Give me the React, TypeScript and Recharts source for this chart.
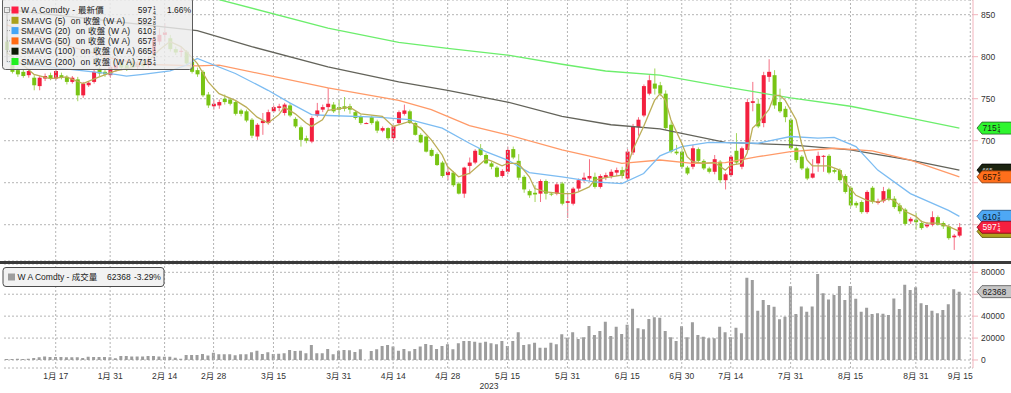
import React from "react";
import { ComposedChart, Bar, Line, XAxis, YAxis, CartesianGrid, ReferenceLine } from "recharts";

const FONT = "'Liberation Sans', Arial, 'Noto Sans CJK TC', sans-serif";

// trading-day slots per month (2023, Jan..Sep); Sep 14/15 are empty trailing slots
const TRADING_DAYS: number[][] = [
  [3, 4, 5, 6, 9, 10, 11, 12, 13, 17, 18, 19, 20, 23, 24, 25, 26, 27, 30, 31],
  [1, 2, 3, 6, 7, 8, 9, 10, 13, 14, 15, 16, 17, 21, 22, 23, 24, 27, 28],
  [1, 2, 3, 6, 7, 8, 9, 10, 13, 14, 15, 16, 17, 20, 21, 22, 23, 24, 27, 28, 29, 30, 31],
  [3, 4, 5, 6, 7, 10, 11, 12, 13, 14, 17, 18, 19, 20, 21, 24, 25, 26, 27, 28],
  [1, 2, 3, 4, 5, 8, 9, 10, 11, 12, 15, 16, 17, 18, 19, 22, 23, 24, 25, 26, 30, 31],
  [1, 2, 5, 6, 7, 8, 9, 12, 13, 14, 15, 16, 20, 21, 22, 23, 26, 27, 28, 29, 30],
  [3, 5, 6, 7, 10, 11, 12, 13, 14, 17, 18, 19, 20, 21, 24, 25, 26, 27, 28, 31],
  [1, 2, 3, 4, 7, 8, 9, 10, 11, 14, 15, 16, 17, 18, 21, 22, 23, 24, 25, 28, 29, 30, 31],
  [1, 5, 6, 7, 8, 11, 12, 13, 14, 15],
];

const TICK_DATES = ["1/17", "1/31", "2/14", "2/28", "3/15", "3/31", "4/14", "4/28", "5/15", "5/31", "6/15", "6/30", "7/14", "7/31", "8/15", "8/31", "9/15"];
const PRICE_TICKS = [600, 650, 700, 750, 800, 850];
const PRICE_TICKS_COVERED = [600, 650];
const VOL_TICKS = [0, 20000, 40000, 60000, 80000];
const VOL_TICKS_COVERED = [60000];

const OPEN = [
  818, 796, 784, 782, 778, 775, 765, 774, 778, 774,
  778, 776, 770, 773, 754, 766, 770, 786, 782, 778,
  786, 792, 790, 794, 788, 793, 790, 803, 818, 826,
  822, 809, 806, 806, 794, 784, 782, 755, 741, 742,
  750, 749, 746, 736, 735, 725, 705, 721, 721, 735,
  739, 733, 742, 726, 716, 703, 699, 730, 737, 740,
  743, 740, 741, 741, 734, 729, 721, 728, 723, 712,
  715, 703, 721, 732, 735, 721, 707, 705, 689, 684,
  674, 659, 662, 649, 637, 670, 674, 691, 683, 673,
  668, 658, 663, 690, 676, 657, 640, 638, 637, 652,
  637, 637, 649, 626, 625, 643, 653, 655, 657, 645,
  656, 658, 662, 665, 655, 686, 716, 730, 756, 768,
  766, 756, 719, 687, 687, 668, 669, 690, 676, 667,
  663, 675, 653, 659, 688, 669, 689, 745, 744, 721,
  776, 778, 746, 738, 725, 691, 681, 667, 656, 673,
  681, 682, 665, 665, 658, 644, 626, 627, 615, 644,
  626, 628, 642, 631, 623, 618, 604, 606, 602, 598,
  600, 609, 602, 598, 585, 587,
];
const HIGH = [
  824, 800, 787, 785, 786, 778, 777, 780, 781, 787,
  781, 778, 777, 776, 770, 771, 785, 790, 786, 795,
  794, 796, 794, 798, 795, 797, 800, 830, 834, 840,
  826, 812, 812, 808, 797, 787, 784, 758, 749, 749,
  755, 751, 748, 738, 737, 727, 721, 733, 737, 742,
  744, 745, 745, 728, 718, 706, 729, 745, 743, 763,
  746, 749, 752, 744, 736, 731, 722, 730, 725, 717,
  716, 718, 736, 743, 737, 722, 709, 706, 691, 686,
  676, 669, 664, 651, 669, 680, 690, 696, 685, 675,
  670, 666, 693, 693, 684, 659, 642, 647, 654, 654,
  639, 650, 651, 638, 645, 655, 662, 678, 662, 660,
  662, 666, 668, 669, 690, 720, 728, 767, 778, 786,
  770, 760, 723, 695, 690, 670, 695, 692, 678, 669,
  683, 677, 662, 683, 709, 693, 750, 770, 750, 782,
  797, 784, 762, 741, 727, 693, 683, 669, 678, 687,
  683, 684, 667, 667, 660, 646, 628, 629, 641, 646,
  631, 645, 644, 634, 626, 620, 609, 614, 605, 603,
  616, 611, 604, 600, 589, 602,
];
const LOW = [
  804, 780, 776, 775, 775, 760, 760, 771, 772, 772,
  773, 767, 768, 747, 751, 764, 768, 777, 776, 775,
  782, 784, 783, 786, 785, 786, 787, 800, 814, 818,
  806, 802, 800, 790, 780, 776, 752, 739, 737, 738,
  743, 742, 730, 729, 722, 703, 701, 707, 719, 733,
  735, 730, 728, 715, 693, 697, 697, 728, 734, 736,
  733, 728, 735, 732, 725, 719, 720, 719, 709, 710,
  701, 699, 719, 730, 720, 706, 697, 686, 681, 670,
  656, 653, 645, 636, 632, 660, 672, 682, 672, 666,
  656, 656, 660, 678, 653, 638, 632, 627, 627, 630,
  634, 635, 623, 608, 623, 640, 650, 652, 643, 643,
  653, 655, 658, 655, 652, 683, 706, 728, 754, 755,
  753, 713, 685, 683, 667, 659, 666, 674, 665, 661,
  660, 650, 642, 657, 672, 666, 686, 735, 715, 716,
  770, 738, 733, 722, 689, 674, 665, 653, 655, 663,
  663, 660, 661, 651, 637, 621, 620, 613, 613, 625,
  624, 626, 628, 619, 613, 599, 601, 594, 594, 596,
  598, 599, 595, 582, 570, 585,
];
const CLOSE = [
  808, 782, 779, 777, 783, 766, 775, 777, 774, 783,
  775, 770, 775, 754, 768, 769, 782, 780, 779, 788,
  790, 787, 786, 788, 792, 789, 797, 822, 826, 829,
  809, 805, 807, 792, 782, 779, 754, 742, 744, 746,
  746, 744, 732, 732, 724, 706, 719, 724, 734, 740,
  741, 743, 730, 717, 701, 700, 727, 736, 740, 744,
  735, 737, 738, 737, 727, 721, 721, 721, 712, 715,
  703, 717, 734, 736, 721, 707, 698, 687, 682, 671,
  658, 663, 647, 637, 668, 674, 688, 683, 673, 669,
  657, 664, 689, 680, 656, 642, 635, 636, 652, 637,
  636, 648, 625, 628, 643, 653, 656, 658, 645, 658,
  659, 663, 665, 658, 687, 717, 725, 765, 772, 762,
  756, 715, 687, 685, 669, 661, 691, 676, 667, 663,
  678, 653, 660, 681, 674, 691, 746, 747, 717, 778,
  782, 742, 735, 728, 691, 677, 667, 655, 661, 682,
  682, 662, 663, 653, 639, 623, 623, 615, 639, 627,
  628, 640, 630, 621, 616, 601, 607, 603, 596, 600,
  609, 600, 598, 584, 587, 597,
];
const VOLUME = [
  900, 900, 1200, 900, 1200, 1800, 2400, 3300, 2700, 2700,
  2700, 2400, 2400, 2400, 1800, 3000, 2700, 2700, 2700, 2400,
  1500, 3600, 3600, 3300, 3300, 3300, 3600, 3600, 3300, 3000,
  3000, 2100, 1200, 4600, 4600, 4600, 5500, 4000, 6700, 5200,
  5200, 5200, 4300, 5200, 5200, 7000, 8500, 5500, 7000, 5500,
  5800, 6100, 9100, 8200, 8500, 6100, 13700, 6100, 6100, 10000,
  5200, 8500, 9100, 8800, 7300, 9700, 0, 8200, 9700, 12800,
  13700, 12200, 8500, 10000, 7900, 10000, 12200, 14600, 13700, 10000,
  12800, 14300, 9700, 15200, 17300, 17300, 16700, 15800, 16700, 15200,
  14300, 17300, 12800, 17300, 25200, 13700, 14300, 15800, 11200, 11200,
  15800, 14300, 23400, 20400, 25200, 19200, 20700, 31000, 22800, 26400,
  35000, 21900, 30400, 23700, 32200, 46800, 28900, 28000, 37400, 38900,
  38600, 26400, 20700, 17300, 30700, 20700, 34400, 22800, 21300, 19800,
  19800, 30400, 25200, 20700, 29500, 24300, 75100, 73000, 45000, 54700,
  50200, 48600, 37100, 39500, 67200, 42000, 48900, 44100, 48900, 78400,
  60800, 55300, 59300, 67500, 54700, 67500, 55900, 44100, 47700, 42000,
  42600, 42300, 41000, 56200, 46500, 68700, 63800, 66300, 51700, 50200,
  45000, 42600, 45600, 50800, 64490, 62368,
];

// moving averages at [slot, value]
const SMA5: [number, number][] = [
  [0, 805], [3, 790], [5, 779], [8, 774], [11, 776], [14, 768], [17, 776], [20, 783], [23, 787], [26, 795],
  [28, 808], [30, 818], [32, 812], [33, 806], [35, 792], [37, 770], [39, 756], [42, 748], [44, 740], [46, 728],
  [48, 721], [50, 731], [51, 740], [53, 732], [55, 721], [56, 717], [58, 725], [59, 736], [63, 740], [65, 732],
  [69, 729], [71, 717], [73, 721], [74, 723], [76, 715], [78, 701], [80, 683], [81, 669], [83, 657], [85, 661],
  [88, 678], [89, 676], [91, 670], [92, 673], [94, 673], [96, 657], [97, 643], [99, 639], [102, 637], [104, 637],
  [105, 639], [107, 645], [108, 653], [110, 656], [113, 659], [114, 669], [115, 689], [117, 717], [119, 748], [120, 756],
  [121, 748], [122, 725], [124, 697], [125, 681], [126, 675], [128, 673], [130, 674], [132, 665], [133, 671], [135, 673],
  [136, 685], [137, 715], [138, 721], [140, 737], [141, 754], [142, 754], [143, 748], [145, 725], [146, 697], [147, 677],
  [148, 670], [150, 670], [151, 670], [153, 665], [154, 651], [156, 635], [158, 629], [160, 627], [162, 631], [163, 629],
  [164, 623], [165, 616], [167, 610], [168, 604], [169, 602], [171, 602], [173, 598], [175, 592],
];
const SMA20: [number, number][] = [
  [0, 794], [10, 786], [20, 779], [22, 777], [25, 779], [30, 783], [33, 790], [35, 798], [42, 780], [48, 760],
  [52, 745], [56, 731], [59, 730], [68, 728], [74, 725], [80, 715], [85, 697], [88, 687], [92, 677], [96, 662],
  [102, 657], [108, 651], [113, 649], [117, 661], [120, 682], [124, 693], [129, 698], [138, 697], [144, 705], [149, 703],
  [152, 704], [156, 693], [160, 665], [166, 637], [173, 617], [175, 610],
];
const SMA50: [number, number][] = [
  [0, 838], [10, 815], [20, 797], [25, 791], [35, 789], [39, 790], [59, 763], [72, 748], [78, 737], [85, 718],
  [92, 707], [102, 689], [113, 673], [120, 677], [126, 673], [132, 674], [138, 681], [144, 687], [152, 691], [159, 688],
  [166, 677], [175, 657],
];
const SMA100: [number, number][] = [
  [0, 856], [35, 831], [45, 812], [59, 788], [72, 770], [81, 760], [92, 746], [102, 729], [111, 719], [120, 714],
  [132, 698], [144, 695], [155, 689], [166, 677], [175, 665],
];
const SMA200: [number, number][] = [
  [30, 884], [39, 868], [59, 834], [72, 817], [81, 810], [92, 802], [102, 791], [110, 783], [120, 778], [132, 764],
  [144, 751], [155, 741], [166, 727], [175, 715],
];

const RED = "#f3203f";
const GREEN = "#78c414";
const RED_WICK = "#f56f84";
const GREEN_WICK = "#a2d65a";

const DATES: string[] = [];
TRADING_DAYS.forEach((days, m) => days.forEach((d) => DATES.push(`${m + 1}/${d}`)));

const rows: any[] = DATES.map((d, i) => ({
  d,
  range: i < CLOSE.length ? [LOW[i], HIGH[i]] : undefined,
  o: OPEN[i],
  h: HIGH[i],
  l: LOW[i],
  c: CLOSE[i],
  vol: VOLUME[i],
}));
const SMA_SERIES: [string, [number, number][]][] = [
  ["sma200", SMA200],
  ["sma100", SMA100],
  ["sma50", SMA50],
  ["sma20", SMA20],
  ["sma5", SMA5],
];
SMA_SERIES.forEach(([key, pts]) => pts.forEach(([i, v]) => (rows[i][key] = v)));

const Candle = (props: any) => {
  const { x, y, width, height, payload } = props;
  if (!payload || payload.c == null) return null;
  const { o, h, l, c } = payload;
  const up = c >= o;
  const color = up ? RED : GREEN;
  const cx = x + width / 2;
  const span = h - l;
  const ratio = span > 0 ? height / span : 0;
  const yTop = y + (h - Math.max(o, c)) * ratio;
  const yBot = y + (h - Math.min(o, c)) * ratio;
  return (
    <g>
      <line x1={cx} x2={cx} y1={y} y2={y + height} stroke={up ? RED_WICK : GREEN_WICK} strokeWidth={1} />
      <rect x={cx - 2} y={yTop} width={4} height={Math.max(1, yBot - yTop)} fill={color} />
    </g>
  );
};

const Tag = (props: any) => {
  const { viewBox, text, fill, stroke, color, num, den, w, fs, dy } = props;
  if (!viewBox) return null;
  const y = viewBox.y;
  const tip = viewBox.x + viewBox.width + 4;
  const hh = 6;
  const right = tip + (w || 40);
  const d = `M${tip},${y} L${tip + 5},${y - hh} L${right},${y - hh} L${right},${y + hh} L${tip + 5},${y + hh} Z`;
  return (
    <g>
      <path d={d} fill={fill} stroke={stroke} strokeWidth={0.8} />
      {text ? <text x={tip + 5.5} y={y + 3.2 + (dy || 0)} fontSize={fs || 8.5} fill={color} fontFamily={FONT}>{text}</text> : null}
      {num ? <text x={tip + 20.5} y={y - 0.6} fontSize={5} fill={color} fontFamily={FONT}>{num}</text> : null}
      {den ? <text x={tip + 20.5} y={y + 4.6} fontSize={5} fill={color} fontFamily={FONT}>{den}</text> : null}
    </g>
  );
};

const DateTick = (props: any) => {
  const { x, payload } = props;
  const [m, d] = String(payload.value).split("/");
  const last = payload.value === "9/15";
  return (
    <text x={last ? x - 10 : x} y={118} textAnchor="middle" fontSize={8.5} fill="#333" fontFamily={FONT} style={{ whiteSpace: "pre" }}>
      {`${m}月 ${d}`}
    </text>
  );
};

// value labels of the right axes; the ones sitting under a value tag are not drawn
const makeValueTick = (covered: number[]) => (props: any) => {
  const { x, y, payload } = props;
  if (covered.includes(payload.value)) return <g />;
  return (
    <text x={x} y={y} dy="0.35em" textAnchor="start" fontSize={8.5} fill="#333" fontFamily={FONT}>
      {payload.value}
    </text>
  );
};

const GRID = "#b4b4b4";
const AXIS_PINK = "#f2b3bc";

const LEGEND_ROWS = [
  { label: "W A Comdty - 最新價", color: "#ff1f45", value: "597", num: "1", den: "4", pct: "1.66%" },
  { label: "SMAVG (5)  on 收盤 (W A)", color: "#aba11c", value: "592", num: "3", den: "8" },
  { label: "SMAVG (20)  on 收盤 (W A)", color: "#45a6f5", value: "610", num: "3", den: "8" },
  { label: "SMAVG (50)  on 收盤 (W A)", color: "#ff6a13", value: "657", num: "5", den: "8" },
  { label: "SMAVG (100)  on 收盤 (W A)", color: "#0d1a05", value: "665", num: "1", den: "4" },
  { label: "SMAVG (200)  on 收盤 (W A)", color: "#20f020", value: "715", num: "1", den: "4" },
];

export default function App() {
  return (
    <div style={{ position: "absolute", left: 0, top: 0, width: 1011, height: 393, background: "#fff", fontFamily: FONT, overflow: "hidden" }}>
      <div style={{ position: "absolute", left: 0, top: 0 }}>
        <ComposedChart width={1011} height={261} data={rows} margin={{ top: 0, right: 0, bottom: 0, left: 4 }}>
          <CartesianGrid vertical={false} stroke={GRID} strokeDasharray="2 2" />
          <XAxis dataKey="d" hide />
          <YAxis
            orientation="right"
            width={38}
            domain={[556.8, 867.5]}
            allowDataOverflow
            ticks={PRICE_TICKS}
            interval={0}
            tickSize={5}
            tickMargin={3}
            axisLine={{ stroke: AXIS_PINK }}
            tickLine={{ stroke: AXIS_PINK }}
            tick={makeValueTick(PRICE_TICKS_COVERED)}
          />
          {TICK_DATES.map((t) => (
            <ReferenceLine key={t} x={t} stroke={GRID} strokeDasharray="2 2" />
          ))}
          <Line dataKey="sma200" stroke="#6cee6c" strokeWidth={1.3} dot={false} connectNulls isAnimationActive={false} />
          <Line dataKey="sma100" stroke="#63635a" strokeWidth={1.3} dot={false} connectNulls isAnimationActive={false} />
          <Line dataKey="sma50" stroke="#ff9a68" strokeWidth={1.3} dot={false} connectNulls isAnimationActive={false} />
          <Line dataKey="sma20" stroke="#7cbcf2" strokeWidth={1.3} dot={false} connectNulls isAnimationActive={false} />
          <Bar dataKey="range" barSize={4} isAnimationActive={false} shape={(p: any) => <Candle {...p} />} />
          <Line dataKey="sma5" stroke="#bcae58" strokeWidth={1.3} dot={false} connectNulls isAnimationActive={false} />
          <ReferenceLine y={715} stroke="none" label={<Tag text="715" fill="#2ef52e" stroke="#2a5a2a" color="#1a1a1a" num="1" den="4" />} />
          <ReferenceLine y={665} stroke="none" label={<Tag text="665" fill="#1c2410" stroke="#000" color="#ddd" fs={6} dy={-1.5} />} />
          <ReferenceLine y={657} stroke="none" label={<Tag text="657" fill="#ff6f1c" stroke="#7a3000" color="#2a1000" num="5" den="8" />} />
          <ReferenceLine y={610} stroke="none" label={<Tag text="610" fill="#4ea8f5" stroke="#1c4f80" color="#0a1a2a" num="3" den="8" />} />
          <ReferenceLine y={592} stroke="none" label={<Tag fill="#aea21e" stroke="#555000" color="#222" />} />
          <ReferenceLine y={597} stroke="none" label={<Tag text="597" fill="#f5203f" stroke="#7a0010" color="#fff" num="1" den="4" />} />
        </ComposedChart>
      </div>
      <div style={{ position: "absolute", left: 0, top: 261 }}>
        <ComposedChart width={1011} height={132} data={rows} margin={{ top: 3, right: 0, bottom: 0, left: 4 }}>
          <CartesianGrid vertical={false} stroke={GRID} strokeDasharray="2 2" />
          <XAxis dataKey="d" height={25} ticks={TICK_DATES} interval={0} tickLine={false} axisLine={false} tick={<DateTick />} />
          <YAxis
            orientation="right"
            width={38}
            domain={[-7300, 87570]}
            allowDataOverflow
            ticks={VOL_TICKS}
            interval={0}
            tickSize={5}
            tickMargin={3}
            axisLine={{ stroke: AXIS_PINK }}
            tickLine={{ stroke: AXIS_PINK }}
            tick={makeValueTick(VOL_TICKS_COVERED)}
          />
          {TICK_DATES.map((t) => (
            <ReferenceLine key={t} x={t} stroke={GRID} strokeDasharray="2 2" />
          ))}
          <Bar dataKey="vol" barSize={3} fill="#9d9d9d" isAnimationActive={false} />
          <ReferenceLine y={62368} stroke="none" label={<Tag text="62368" fill="#c6c6c6" stroke="#555" color="#1a1a1a" w={36} />} />
        </ComposedChart>
      </div>
      <svg width={1011} height={393} style={{ position: "absolute", left: 0, top: 0, pointerEvents: "none" }}>
        {/* price legend */}
        <rect x={2.5} y={-2} width={190} height={71.5} rx={3} fill="rgba(236,236,236,0.82)" stroke="#5c5c5c" strokeWidth={1} />
        <rect x={4.5} y={7.5} width={5} height={5} fill="none" stroke="#888" strokeWidth={0.8} />
        <line x1={7} x2={7} y1={12.5} y2={61.5} stroke="#888" strokeWidth={0.8} strokeDasharray="1 1" />
        {LEGEND_ROWS.map((r, k) => {
          const cy = 10 + k * 10.3;
          return (
            <g key={k}>
              {k > 0 ? <line x1={7} x2={11} y1={cy} y2={cy} stroke="#888" strokeWidth={0.8} strokeDasharray="1 1" /> : null}
              <rect x={11.5} y={cy - 3.5} width={7} height={7} fill={r.color} />
              <text x={21} y={cy + 3.2} fontSize={8.5} letterSpacing={0.2} fill="#1a1a1a" fontFamily={FONT} style={{ whiteSpace: "pre" }}>{r.label}</text>
              <text x={152} y={cy + 3.2} fontSize={8.5} fill="#1a1a1a" fontFamily={FONT} textAnchor="end">{r.value}</text>
              <text x={153} y={cy - 0.2} fontSize={5} fill="#1a1a1a" fontFamily={FONT}>{r.num}</text>
              <text x={153} y={cy + 4.6} fontSize={5} fill="#1a1a1a" fontFamily={FONT}>{r.den}</text>
              {r.pct ? <text x={167} y={cy + 3.2} fontSize={8.5} fill="#1a1a1a" fontFamily={FONT}>{r.pct}</text> : null}
            </g>
          );
        })}
        {/* panel separator */}
        <rect x={0} y={261} width={1011} height={3} fill="#3a3a3a" />
        {/* volume legend */}
        <rect x={3} y={267.5} width={161} height={19} rx={3} fill="#f2f2f2" stroke="#4a4a4a" strokeWidth={1} />
        <rect x={8} y={273.5} width={7} height={7} fill="#9d9d9d" />
        <text x={17.5} y={280} fontSize={8.5} fill="#1a1a1a" fontFamily={FONT} style={{ whiteSpace: "pre" }}>W A Comdty - 成交量</text>
        <text x={107} y={280} fontSize={8.5} fill="#1a1a1a" fontFamily={FONT}>62368</text>
        <text x={134} y={280} fontSize={8.5} fill="#1a1a1a" fontFamily={FONT}>-3.29%</text>
        {/* year */}
        <text x={489} y={389} fontSize={8.5} fill="#333" fontFamily={FONT} textAnchor="middle">2023</text>
      </svg>
    </div>
  );
}
